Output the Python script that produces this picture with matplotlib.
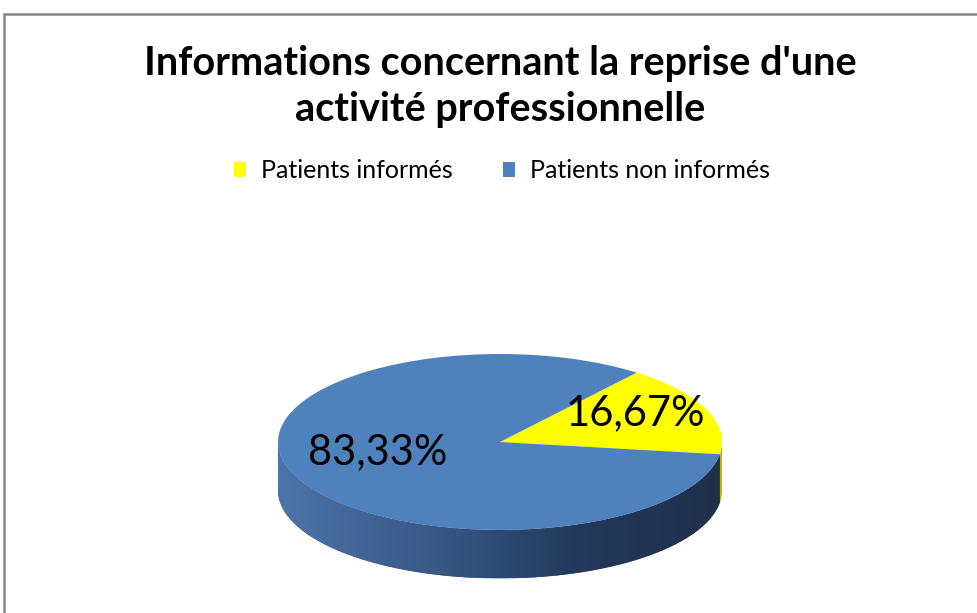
import numpy as np
import matplotlib
matplotlib.use("Agg")
import matplotlib.pyplot as plt
from matplotlib.patches import Polygon, Rectangle
from matplotlib.colors import LinearSegmentedColormap

labels = ["Patients informés", "Patients non informés"]
values = [16.67, 83.33]
colors = ["#FFFF00", "#4F81BD"]
title = "Informations concernant la reprise d'une\nactivité professionnelle"

plt.rcParams['font.family'] = ['Lato', 'DejaVu Sans']

W, H = 977, 613
fig = plt.figure(figsize=(W / 100, H / 100), dpi=100)
fig.patch.set_facecolor("white")

# outer chart frame (cut off at right/bottom like the screenshot)
fig.patches.append(Rectangle((4 / W, -0.05), 1.1, 1 - 14 / H + 0.05,
                             transform=fig.transFigure, fill=False,
                             edgecolor="#868686", linewidth=1.8))

# pie geometry in pixels: ellipse centre, semi axes, thickness
cx, cy, a, b = 500, 442, 222, 88
depth = 0.55

ax = fig.add_axes([0, 0, 1, 1])
wedges, texts, autotexts = ax.pie(
    values, colors=colors, startangle=-8, counterclock=True,
    autopct=lambda p: f"{p:.2f}%".replace(".", ","),
    wedgeprops=dict(linewidth=0), textprops=dict(fontsize=30, color="black"))
ax.set_aspect("auto")
ax.set_xlim(-cx / a, (W - cx) / a)
ax.set_ylim(-(H - cy) / b, cy / b)
ax.axis("off")

autotexts[0].set_position((0.61, 0.33))
autotexts[1].set_position((-0.55, -0.12))

# side of the 3d disc, built from the wedge angles
side_cmap = LinearSegmentedColormap.from_list(
    "side", ["#4D74AA", "#3A5A88", "#243A5C", "#1F3049"])
side_cols = {0: "#B8B800"}
for i, w in enumerate(wedges):
    t1, t2 = w.theta1 % 360, w.theta2 % 360
    if t2 <= t1:
        t2 += 360
    for lo, hi in [(180, 360), (540, 720)]:
        s, e = max(t1, lo), min(t2, hi)
        if e <= s:
            continue
        t = np.radians(np.linspace(s, e, 200))
        top = np.column_stack([np.cos(t), np.sin(t)])
        bot = np.column_stack([np.cos(t[::-1]), np.sin(t[::-1]) - depth])
        poly = Polygon(np.vstack([top, bot]), closed=True, linewidth=0,
                       facecolor=side_cols.get(i, "#3A5A88"), zorder=0.5)
        ax.add_patch(poly)
        if i == 1:
            grad = np.linspace(0, 1, 256).reshape(1, -1)
            im = ax.imshow(grad, cmap=side_cmap, aspect="auto",
                           extent=(-1, 1, -1 - depth, 0.1), zorder=0.6)
            im.set_clip_path(poly)

fig.text(cx / W, 1 - 45 / H, title, ha="center", va="top", fontsize=28.5,
         fontweight="bold", linespacing=1.3)

fig.legend(wedges, labels, loc="center", bbox_to_anchor=(502 / W, 1 - 171 / H),
           ncol=2, frameon=False, fontsize=18, handlelength=0.5,
           handleheight=0.5, handletextpad=0.6, columnspacing=2.0)

fig.savefig("out.png", dpi=100, facecolor="white")
